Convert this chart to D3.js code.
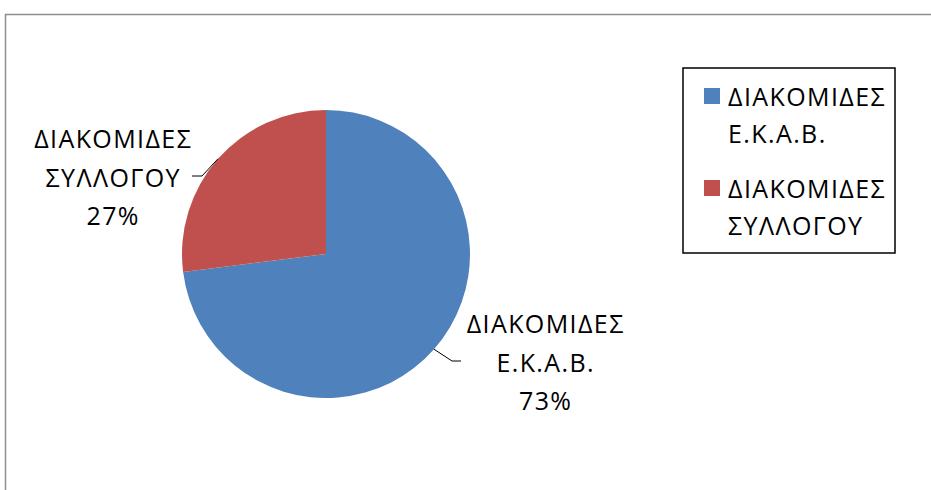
<!DOCTYPE html>
<html><head><meta charset="utf-8">
<script src="https://cdn.jsdelivr.net/npm/d3@7"></script>
<style>body{margin:0;background:#fff;}svg{display:block;}text{font-family:"Open Sans",sans-serif;fill:#000;}</style>
</head><body>
<svg id="chart" width="931" height="490"></svg>
<script>
const categories = ["ΔΙΑΚΟΜΙΔΕΣ Ε.Κ.Α.Β.", "ΔΙΑΚΟΜΙΔΕΣ ΣΥΛΛΟΓΟΥ"];
const labelLines = [["ΔΙΑΚΟΜΙΔΕΣ", "Ε.Κ.Α.Β."], ["ΔΙΑΚΟΜΙΔΕΣ", "ΣΥΛΛΟΓΟΥ"]];
const values = [73, 27];
const colors = ["#4F81BD", "#C0504D"];

const svg = d3.select("#chart");
const W = 931, H = 490;
svg.append("rect").attr("width", W).attr("height", H).attr("fill", "#fff");
// chart area border
svg.append("rect").attr("x", 5.5).attr("y", 14.5).attr("width", 940).attr("height", 500)
  .attr("fill", "none").attr("stroke", "#8e8e8e").attr("stroke-width", 1.5);

const cx = 326, cy = 254, R = 144;
const pie = d3.pie().sort(null).value(d => d)(values);
const arc = d3.arc().innerRadius(0).outerRadius(R);
const g = svg.append("g").attr("transform", `translate(${cx},${cy})`);
g.selectAll("path").data(pie).join("path")
  .attr("d", arc).attr("fill", (d, i) => colors[i]);

const total = d3.sum(values);
const fs = 25, ls = 1.4;
// label placement (layout): center x, first baseline, and leader elbow/end
const labelLayout = [
  {x: 545, y: 333, elbow: [452 - cx, 361 - cy], end: [461 - cx, 361 - cy]},
  {x: 112.5, y: 148, elbow: [202 - cx, 176 - cy], end: [192 - cx, 176 - cy]}
];
pie.forEach((d, i) => {
  const a = (d.startAngle + d.endAngle) / 2;
  const p = [R * Math.sin(a), -R * Math.cos(a)];
  const L = labelLayout[i];
  g.append("path")
    .attr("d", d3.line()([p, L.elbow, L.end]))
    .attr("fill", "none").attr("stroke", "#000").attr("stroke-width", 1);
  const lines = labelLines[i].concat([Math.round(d.value / total * 100) + "%"]);
  const t = svg.append("text").attr("text-anchor", "middle").attr("font-size", fs)
    .attr("letter-spacing", ls);
  lines.forEach((s, j) => {
    t.append("tspan").attr("x", L.x + ls / 2).attr("y", L.y + j * 38.5).text(s);
  });
});

// legend
svg.append("rect").attr("x", 683).attr("y", 68).attr("width", 212).attr("height", 185)
  .attr("fill", "#fff").attr("stroke", "#000").attr("stroke-width", 1.5);
const legY = [106, 198];
categories.forEach((c, i) => {
  svg.append("rect").attr("x", 704).attr("y", legY[i] - 18).attr("width", 16).attr("height", 16)
    .attr("fill", colors[i]);
  const t = svg.append("text").attr("font-size", fs).attr("letter-spacing", ls);
  labelLines[i].forEach((s, j) => {
    t.append("tspan").attr("x", 728).attr("y", legY[i] + j * 37).text(s);
  });
});
</script>
</body></html>
